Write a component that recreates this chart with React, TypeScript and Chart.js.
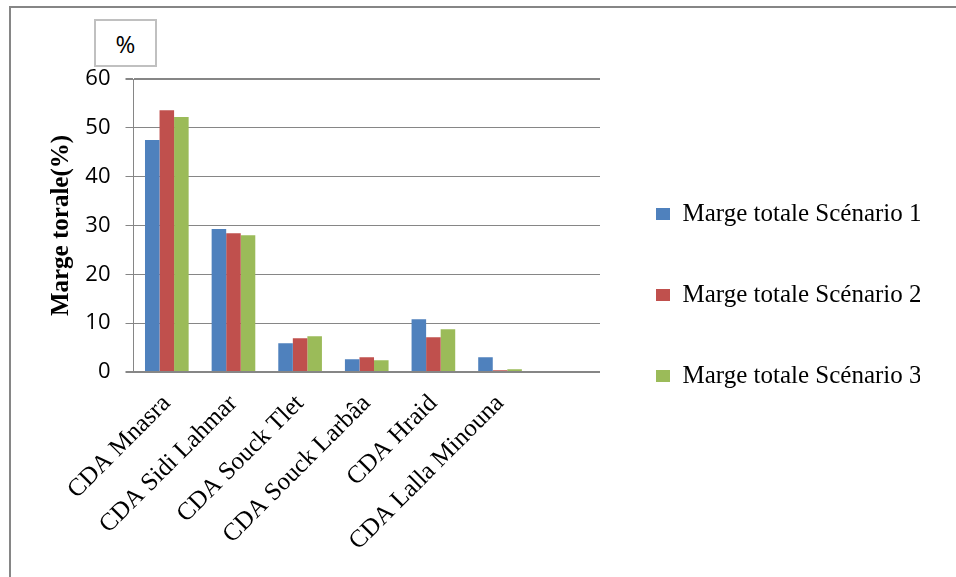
import React, { useEffect, useRef } from 'react';
import { Chart, registerables } from 'chart.js';

Chart.register(...registerables);

const categories = [
  'CDA Mnasra',
  'CDA Sidi Lahmar',
  'CDA Souck Tlet',
  'CDA Souck Larbâa',
  'CDA Hraid',
  'CDA Lalla Minouna',
  '',
];
const seriesLabels = [
  'Marge totale Scénario 1',
  'Marge totale Scénario 2',
  'Marge totale Scénario 3',
];
const scenario1 = [47.5, 29.3, 5.9, 2.6, 10.8, 3.0];
const scenario2 = [53.6, 28.4, 6.9, 3.0, 7.1, 0.35];
const scenario3 = [52.2, 28.0, 7.3, 2.4, 8.75, 0.55];
const seriesColors = ['#4F81BD', '#C0504D', '#9BBB59'];
const yMin = 0;
const yMax = 60;
const yStep = 10;
const yTitle = 'Marge torale(%)';
const unitLabel = '%';

export default function App() {
  const canvasRef = useRef<HTMLCanvasElement | null>(null);

  useEffect(() => {
    const canvas = canvasRef.current;
    if (!canvas) return;
    const values = [scenario1, scenario2, scenario3];
    const chart = new Chart(canvas, {
      type: 'bar',
      data: {
        labels: categories,
        datasets: values.map((v, i) => ({
          label: seriesLabels[i],
          data: v,
          backgroundColor: seriesColors[i],
          borderWidth: 0,
          categoryPercentage: 0.655,
          barPercentage: 1,
        })),
      },
      options: {
        responsive: false,
        animation: false,
        devicePixelRatio: 1,
        layout: { padding: { left: 40, top: 13, right: 36, bottom: 0 } },
        plugins: {
          tooltip: { enabled: false },
          title: {
            // empty spacer above the plot area (the "%" unit box is drawn over it)
            display: true,
            text: '',
            padding: { top: 0, bottom: 56 },
            font: { size: 10, lineHeight: 1 },
          },
          legend: {
            display: true,
            position: 'right',
            align: 'center',
            maxWidth: 320,
            labels: {
              boxWidth: 14,
              boxHeight: 12,
              padding: 56,
              color: '#000',
              font: { family: 'Liberation Serif', size: 25 },
            },
          },
        },
        scales: {
          x: {
            grid: { display: false, drawTicks: false },
            border: { display: false },
            ticks: {
              autoSkip: false,
              maxRotation: 45,
              minRotation: 45,
              padding: 17,
              color: '#000',
              font: { family: 'Liberation Serif', size: 25 },
            },
            afterFit: (s: any) => {
              s.height = 205;
            },
          },
          y: {
            min: yMin,
            max: yMax,
            ticks: {
              stepSize: yStep,
              padding: 15,
              color: '#000',
              font: { family: 'Open Sans', size: 22 },
            },
            grid: {
              color: '#868686',
              tickLength: 8,
              lineWidth: (ctx: any) =>
                ctx.tick && (ctx.tick.value === yMin || ctx.tick.value === yMax) ? 2 : 1,
            },
            border: { display: true, color: '#868686', width: 1 },
            title: {
              display: true,
              text: yTitle,
              color: '#000',
              padding: { top: 7, bottom: 0 },
              font: { family: 'Liberation Serif', size: 25, weight: 'bold' },
            },
            afterFit: (s: any) => {
              s.width = 93.5;
            },
          },
        },
      },
    } as any);
    return () => chart.destroy();
  }, []);

  return (
    <div style={{ position: 'absolute', left: 0, top: 0, width: 956, height: 577, background: '#fff' }}>
      <div
        style={{
          position: 'absolute',
          left: 9,
          top: 6,
          width: 947,
          height: 571,
          borderTop: '2px solid #868686',
          borderLeft: '2px solid #868686',
          boxSizing: 'border-box',
        }}
      />
      <canvas
        ref={canvasRef}
        width={956}
        height={577}
        style={{ position: 'absolute', left: 0, top: 0, width: 956, height: 577, display: 'block' }}
      />
      <div
        style={{
          position: 'absolute',
          left: 94,
          top: 19,
          width: 63,
          height: 48,
          border: '2px solid #c0c0c0',
          boxSizing: 'border-box',
          display: 'flex',
          alignItems: 'center',
          justifyContent: 'center',
          fontFamily: 'Open Sans',
          fontSize: 24,
          color: '#000',
          background: '#fff',
        }}
      >
        {unitLabel}
      </div>
    </div>
  );
}
